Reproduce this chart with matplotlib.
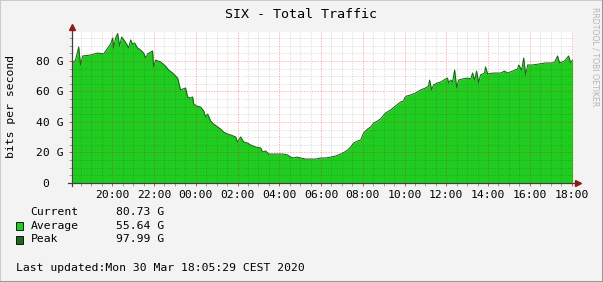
import matplotlib

matplotlib.use("Agg")
import matplotlib.pyplot as plt
from matplotlib.patches import Rectangle

# hours since 18:00 on the previous day
HOURS = [
    0.10, 0.24, 0.39, 0.48, 0.58, 0.96, 1.30, 1.59, 1.78, 1.92, 2.02, 2.06, 2.16, 2.26,
    2.35, 2.45, 2.59, 2.69, 2.78, 2.88, 2.97, 3.07, 3.21, 3.36, 3.50, 3.60, 3.69, 3.84,
    3.93, 3.98, 4.08, 4.32, 4.55, 4.70, 4.89, 5.03, 5.13, 5.27, 5.37, 5.51, 5.61, 5.75,
    5.85, 5.90, 6.04, 6.23, 6.38, 6.47, 6.57, 6.71, 6.85, 7.05, 7.19, 7.33, 7.53, 7.67,
    7.91, 8.00, 8.15, 8.29, 8.48, 8.63, 8.87, 9.11, 9.20, 9.35, 9.49, 9.68, 9.92, 10.16,
    10.40, 10.54, 10.69, 10.83, 11.02, 11.26, 11.50, 11.74, 11.98, 12.22, 12.46, 12.70,
    12.94, 13.13, 13.27, 13.42, 13.56, 13.75, 13.90, 14.04, 14.23, 14.38, 14.52, 14.71,
    14.85, 15.09, 15.33, 15.57, 15.81, 15.96, 16.00, 16.10, 16.29, 16.53, 16.77, 17.01,
    17.15, 17.20, 17.30, 17.39, 17.58, 17.73, 17.97, 18.06, 18.11, 18.21, 18.30, 18.40,
    18.50, 18.59, 18.78, 19.02, 19.17, 19.26, 19.36, 19.45, 19.55, 19.64, 19.83, 19.88,
    19.98, 20.26, 20.60, 20.79, 20.94, 21.18, 21.42, 21.47, 21.61, 21.71, 21.80, 21.90,
    22.14, 22.42, 22.76, 23.09, 23.19, 23.33, 23.43, 23.67, 23.86, 23.96, 24.05,
]
# traffic in Gbit/s
TRAFFIC = [
    78.7, 80.6, 89.2, 77.4, 83.3, 83.9, 85.2, 84.6, 88.5, 91.1, 95.1, 88.5, 95.1, 98.0,
    89.8, 95.7, 93.1, 91.1, 88.5, 93.8, 91.1, 91.8, 88.5, 87.2, 85.2, 82.0, 84.6, 85.9,
    86.6, 76.1, 80.6, 79.3, 76.7, 74.1, 72.1, 70.2, 68.8, 61.0, 61.6, 62.3, 56.4, 55.7,
    56.4, 51.8, 50.5, 49.8, 47.2, 43.3, 45.2, 40.7, 38.7, 36.7, 35.4, 33.4, 32.1, 31.5,
    30.2, 26.9, 30.2, 26.9, 26.2, 24.9, 23.6, 23.0, 20.3, 21.0, 19.0, 19.0, 19.0, 19.0,
    18.4, 17.0, 16.4, 17.0, 16.4, 15.7, 15.7, 15.7, 16.4, 16.4, 17.0, 17.7,
    19.0, 20.3, 21.6, 23.6, 26.2, 27.5, 28.2, 32.8, 35.4, 36.7, 39.3, 40.7,
    42.0, 45.9, 47.9, 50.5, 53.1, 53.8, 55.7, 57.0, 57.7, 59.0, 61.0, 62.3,
    63.6, 67.5, 61.0, 64.3, 65.6, 66.2, 68.2, 68.8, 65.6, 67.5, 66.2, 74.1,
    62.3, 67.5, 68.2, 68.8, 68.2, 72.1, 67.5, 73.4, 65.6, 70.8, 72.1, 76.1,
    71.5, 72.1, 72.1, 73.4, 72.1, 73.4, 74.8, 77.4, 74.1, 82.0, 70.8, 77.4,
    77.4, 78.0, 78.7, 78.7, 79.3, 83.3, 78.7, 80.0, 83.3, 78.7, 80.6,
]

XTICKS = [2, 4, 6, 8, 10, 12, 14, 16, 18, 20, 22, 24]
XTICK_LABELS = ["20:00", "22:00", "00:00", "02:00", "04:00", "06:00",
                "08:00", "10:00", "12:00", "14:00", "16:00", "18:00"]
YTICKS = [0, 20, 40, 60, 80]
YTICK_LABELS = ["0  ", "20 G", "40 G", "60 G", "80 G"]

LEGEND_NAMES = ["Current", "Average", "Peak"]
LEGEND_VALUES = ["80.73 G", "55.64 G", "97.99 G"]
LAST_UPDATED = "Last updated:Mon 30 Mar 18:05:29 CEST 2020"

W, H = 603, 282
BG = "#F3F3F3"
GREEN = "#21CC21"
DARK_GREEN = "#136913"
AXIS = "#404040"
ARROW = "#8E1A1A"
MONO = "DejaVu Sans Mono"


def fx(x):
    return x / W


def fy(y):
    return 1 - y / H


fig = plt.figure(figsize=(W / 100, H / 100), dpi=100, facecolor=BG)
left, right, top, bottom = 72, 573, 31.7, 183
ax = fig.add_axes([fx(left), fy(bottom), (right - left) / W, (bottom - top) / H])
ax.set_facecolor("white")

ax.fill_between(HOURS, TRAFFIC, 0, color=GREEN, lw=0, zorder=1)
ax.plot(HOURS, TRAFFIC, color=DARK_GREEN, lw=0.75, zorder=2)

ax.set_xlim(0.07, 24.07)
ax.set_ylim(0, 99.2)
ax.set_xticks(XTICKS)
ax.set_xticklabels(XTICK_LABELS)
ax.set_xticks([h / 2 for h in range(1, 49)], minor=True)
ax.set_yticks(YTICKS)
ax.set_yticklabels(YTICK_LABELS)
ax.set_yticks(list(range(5, 100, 5)), minor=True)

for lab in ax.get_xticklabels() + ax.get_yticklabels():
    lab.set_fontfamily(MONO)
    lab.set_fontsize(8.2)
    lab.set_color("black")

ax.tick_params(which="major", length=2.5, width=0.7, color="#D05050", pad=2.5)
ax.tick_params(which="minor", length=2, width=0.7, color="#A0A0A0")
ax.tick_params(axis="y", pad=3.5)

ax.set_axisbelow(False)
ax.grid(which="minor", color="black", alpha=0.13, lw=0.7, ls=(0, (1.4, 1.4)))
ax.grid(which="major", color="red", alpha=0.3, lw=0.7, ls=(0, (1.4, 1.4)))

for s in ax.spines.values():
    s.set_visible(False)

# axis lines with arrow heads like rrdtool
ax.plot([-0.008, 1.006], [0, 0], transform=ax.transAxes, color=AXIS, lw=0.9,
        clip_on=False, zorder=5)
ax.plot([0, 0], [-0.02, 1.02], transform=ax.transAxes, color=AXIS, lw=0.9,
        clip_on=False, zorder=5)
ax.plot([1.009], [0], marker=">", ms=4.5, color=ARROW, transform=ax.transAxes,
        clip_on=False, zorder=6)
ax.plot([0], [1.03], marker="^", ms=4.5, color=ARROW, transform=ax.transAxes,
        clip_on=False, zorder=6)

fig.text(fx(301), fy(15), "SIX - Total Traffic", ha="center", va="center",
         family=MONO, fontsize=9.6)
fig.text(fx(11), fy(106.5), "bits per second", rotation=90, ha="center",
         va="center", family=MONO, fontsize=8.2)
fig.text(fx(595), fy(7), "RRDTOOL / TOBI OETIKER", rotation=270, ha="center",
         va="top", fontsize=5.6, color="#B5B5B5")

rows_y = [211.7, 225.7, 239.5]
swatch = [None, GREEN, "#1A6A1A"]
for name, value, ypos, col in zip(LEGEND_NAMES, LEGEND_VALUES, rows_y, swatch):
    fig.text(fx(30.5), fy(ypos), name, ha="left", va="center", family=MONO, fontsize=8.2)
    fig.text(fx(116), fy(ypos), value, ha="left", va="center", family=MONO, fontsize=8.2)
    if col:
        fig.patches.append(Rectangle((fx(15.5), fy(ypos + 4)), 7.5 / W, 7.5 / H,
                                     transform=fig.transFigure, facecolor=col,
                                     edgecolor="black", lw=0.6))

fig.text(fx(16), fy(267.7), LAST_UPDATED, ha="left", va="center", family=MONO, fontsize=8.2)

# 3d frame around the image
fig.add_artist(plt.Line2D([0, 0], [0, 1], transform=fig.transFigure, color="#CBCBCB", lw=1.5))
fig.add_artist(plt.Line2D([0, 1], [1, 1], transform=fig.transFigure, color="#CBCBCB", lw=1.5))
fig.add_artist(plt.Line2D([1, 1], [0, 1], transform=fig.transFigure, color="#999999", lw=1.5))
fig.add_artist(plt.Line2D([0, 1], [0, 0], transform=fig.transFigure, color="#999999", lw=1.5))

fig.savefig("out.png", dpi=100, facecolor=BG)
